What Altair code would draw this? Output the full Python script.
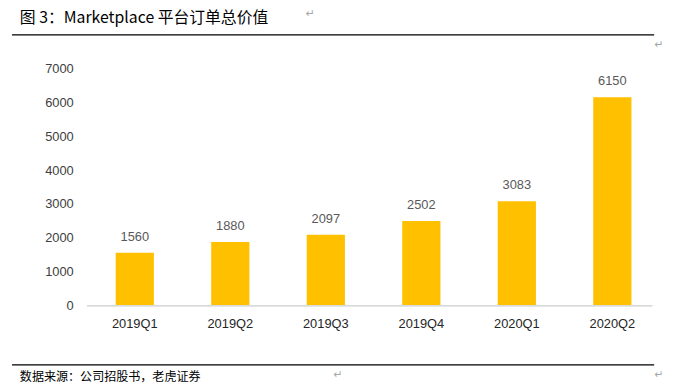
import altair as alt
import pandas as pd

quarters = ["2019Q1", "2019Q2", "2019Q3", "2019Q4", "2020Q1", "2020Q2"]
gmv = [1560, 1880, 2097, 2502, 3083, 6150]
y_ticks = [0, 1000, 2000, 3000, 4000, 5000, 6000, 7000]

title_text = "图 3：Marketplace 平台订单总价值"
source_text = "数据来源：公司招股书，老虎证券"

df = pd.DataFrame({"q": quarters, "v": gmv})

CJK = "Noto Sans CJK SC"
NUM = "Liberation Sans"

x_scale = alt.Scale(paddingInner=0.6, paddingOuter=0.3)
y_scale = alt.Scale(domain=[0, 7000])
x_axis = alt.Axis(labelAngle=0, labelFont=NUM, labelFontSize=13,
                  labelColor="#262626", ticks=False, domain=False,
                  labelPadding=12)
y_axis = alt.Axis(values=y_ticks, grid=False, ticks=False, domain=False,
                  format="d", labelOverlap=False, labelBound=False,
                  labelFont=NUM, labelFontSize=13, labelColor="#404040",
                  labelPadding=14)

x_enc = alt.X("q:N", sort=quarters, title=None, scale=x_scale, axis=x_axis)
y_enc = alt.Y("v:Q", title=None, scale=y_scale, axis=y_axis)

base = alt.Chart(df)

bars = base.mark_bar(color="#FFC000").encode(x=x_enc, y=y_enc)

labels = base.mark_text(font=NUM, fontSize=13, color="#595959",
                        baseline="bottom", dy=-9).encode(
    x=x_enc, y=y_enc, text="v:Q")

axis_line = base.mark_rule(color="#d9d9d9", strokeWidth=1).encode(
    x=alt.value(0), x2=alt.value(572), y=alt.value(240))

deco = alt.Chart(pd.DataFrame({"a": [0]}))

title = deco.mark_text(text=title_text, font=CJK, fontSize=16, color="#000000",
                       align="left", baseline="middle").encode(
    x=alt.value(-68), y=alt.value(-51))
source = deco.mark_text(text=source_text, font=CJK, fontSize=12.2, color="#000000",
                        align="left", baseline="middle").encode(
    x=alt.value(-68), y=alt.value(312))
top_rule = deco.mark_rule(color="#000000", strokeWidth=1.3).encode(
    x=alt.value(-76), x2=alt.value(574), y=alt.value(-34))
bot_rule = deco.mark_rule(color="#000000", strokeWidth=1.3).encode(
    x=alt.value(-76), x2=alt.value(574), y=alt.value(300))

arrows_df = pd.DataFrame({"ax": [226, 579, 254, 579], "ay": [-55, -24, 310, 310]})
arrows = alt.Chart(arrows_df).mark_text(text="↵", font="DejaVu Sans", fontSize=11,
                                        color="#a6a6a6", baseline="middle").encode(
    x=alt.X("ax:Q", scale=None), y=alt.Y("ay:Q", scale=None))

chart = alt.layer(bars, labels, axis_line, title, source, top_rule, bot_rule, arrows).properties(
    width=580, height=240,
    autosize=alt.AutoSizeParams(type="none"),
    padding={"left": 80, "top": 59, "right": 8, "bottom": 76},
).configure_view(stroke=None)

chart.save("out.html", embed_options={"renderer": "svg", "actions": False})
